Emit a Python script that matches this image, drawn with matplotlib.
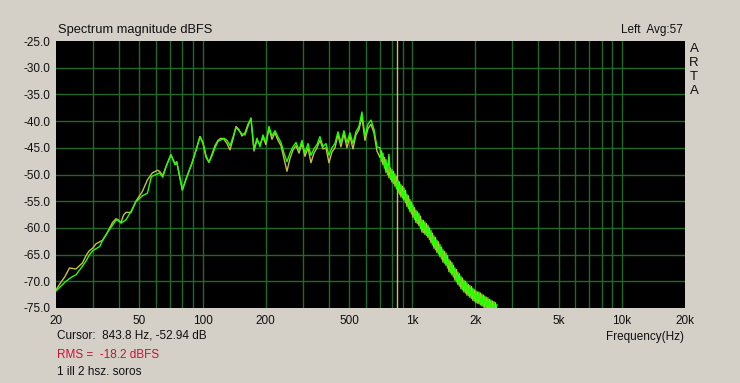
import numpy as np
import matplotlib
matplotlib.use('Agg')
from matplotlib import pyplot as plt
from matplotlib.ticker import FixedLocator, NullFormatter, NullLocator

plt.rcParams['font.family'] = ['Liberation Sans', 'DejaVu Sans']
plt.rcParams['font.size'] = 8.5

#---- data

freq = [20, 21, 22, 23.2, 24, 24.9, 26, 26.7, 28, 28.8,
        29.9, 31, 32.3, 33.4, 35, 37.2, 38.6, 39.3, 40.8, 42,
        43.1, 45.6, 48.1, 51.6, 54.6, 56.9, 57.6, 61, 62.3, 64.6,
        67, 70.6, 74, 75.3, 77, 80.1, 84, 89, 93,
        97.2, 100.5, 103.9, 107.3, 110.9, 114.6, 118.5, 122.4, 126.5, 130.8,
        135.2, 139.7, 144.4, 149.2, 154.2, 159.3, 164.7, 170.2, 175.9, 181.8,
        187.9, 194.1, 200.6, 207.4, 214.3, 221.5, 229.0, 236.6, 244.5, 252.7,
        261.2, 270.0, 279.0, 288.4, 298.0, 308.0, 318.3, 328.9, 339.9, 351.3,
        363.0, 375.2, 387.8, 400.7, 414.2, 428.1, 442.4, 457.2, 472.5, 488.3,
        504.7, 521.6, 539.1, 557.1, 575.8, 595.1, 615.0, 635.6, 656.9, 678.9,
        701.7, 713.4, 725.2, 737.3, 749.5, 762.0, 774.6, 787.5, 800.5, 813.8,
        827.4, 841.1, 855.1, 869.3, 883.7, 898.4, 913.3, 928.5, 943.9, 959.6,
        975.6, 991.8, 1008, 1025, 1042, 1059, 1077, 1095, 1113, 1131,
        1150, 1169, 1189, 1209, 1229, 1249, 1270, 1291, 1312, 1334,
        1356, 1379, 1402, 1425, 1449, 1473, 1497, 1522, 1547, 1573,
        1599, 1626, 1652, 1679, 1708, 1736, 1765, 1794, 1824, 1854,
        1885, 1916, 1948, 1980, 2013, 2046, 2081, 2116, 2150, 2186,
        2222, 2259, 2297, 2335, 2373, 2412, 2453, 2494, 2535]

green_db = [-71.8, -71.0, -70.2, -69.5, -69.1, -68.8, -67.8, -67.2, -66.0, -65.1,
            -64.3, -63.9, -63.5, -62.3, -61.0, -59.5, -58.6, -58.5, -59.1, -58.8,
            -58.5, -56.9, -55.1, -54.0, -53.5, -50.5, -50.3, -49.9, -49.7, -50.5,
            -48.5, -46.3, -48.2, -47.7, -49.5, -52.9, -50.5, -47.9, -45.5,
            -42.9, -44.0, -46.5, -47.7, -46.5, -45.0, -43.8, -43.5, -43.2, -43.6,
            -44.6, -43.0, -41.2, -41.8, -42.4, -42.6, -41.0, -39.4, -45.2, -43.2,
            -44.8, -42.6, -44.0, -41.0, -42.8, -41.8, -43.0, -44.0, -46.0, -47.6,
            -46.0, -44.8, -44.0, -45.4, -43.6, -46.0, -44.2, -46.4, -45.2, -44.4,
            -42.9, -44.8, -44.2, -46.4, -45.0, -44.2, -42.0, -44.0, -41.8, -44.0,
            -42.2, -44.2, -42.0, -41.0, -38.3, -42.8, -40.6, -39.8, -41.5, -44.8,
            -45.0, -47.6, -46.0, -48.8, -47.2, -50.0, -46.2, -50.9, -49.1, -51.7,
            -49.9, -52.7, -51.1, -53.7, -51.9, -54.4, -52.5, -55.3, -53.7, -56.4,
            -54.7, -57.4, -55.7, -58.4, -56.7, -59.2, -57.3, -60.1, -58.5, -60.9,
            -58.9, -61.4, -59.5, -62.2, -60.5, -63.2, -61.5, -64.1, -62.3, -64.9,
            -63.1, -65.8, -64.1, -66.6, -64.7, -67.5, -65.9, -68.4, -66.5, -69.2,
            -67.5, -70.1, -68.3, -70.9, -69.1, -71.6, -69.8, -72.2, -70.3, -72.7,
            -70.8, -73.2, -71.3, -73.7, -71.8, -74.1, -72.0, -74.4, -72.4, -74.8,
            -72.8, -75.1, -73.1, -75.5, -73.5, -75.8, -73.8, -76.2, -74.4]

yellow_db = [-71.6, -70.3, -69.2, -67.5, -67.6, -67.7, -67.0, -66.6, -65.0, -64.3,
             -63.8, -63.0, -62.6, -62.3, -61.0, -59.0, -58.3, -58.4, -59.0, -57.6,
             -57.1, -57.1, -55.0, -53.2, -51.0, -50.0, -49.7, -49.2, -49.4, -50.2,
             -48.5, -46.3, -48.0, -47.6, -49.5, -52.9, -50.5, -47.9, -45.5,
             -42.9, -44.2, -46.8, -47.7, -46.2, -44.6, -43.6, -43.2, -43.4, -44.2,
             -45.4, -43.4, -41.0, -41.6, -42.8, -42.2, -40.6, -39.6, -45.6, -43.6,
             -44.4, -43.0, -44.4, -41.4, -43.4, -42.2, -43.6, -44.6, -47.0, -49.4,
             -47.0, -45.4, -44.6, -46.0, -44.2, -46.6, -45.0, -47.8, -46.0, -45.0,
             -43.6, -45.2, -45.0, -47.8, -45.8, -45.0, -42.6, -44.8, -42.4, -45.0,
             -42.8, -45.2, -42.6, -41.6, -39.2, -43.6, -41.4, -40.6, -42.2, -45.6,
             -46.8, -45.6, -48.2, -46.8, -49.6, -48.0, -50.6, -48.8, -51.4, -49.4,
             -52.2, -50.4, -53.4, -51.4, -54.2, -52.2, -54.8, -53.0, -56.0, -54.0,
             -57.0, -55.2, -58.0, -56.2, -59.0, -57.0, -59.6, -57.8, -60.8, -58.6,
             -61.2, -59.2, -61.8, -60.0, -62.8, -61.0, -63.8, -61.8, -64.6, -62.6,
             -65.4, -63.6, -66.4, -64.4, -67.0, -65.2, -68.2, -66.2, -68.8, -67.0,
             -69.8, -67.8, -70.6, -68.6, -71.4, -69.4, -72.0, -70.0, -72.6, -70.6,
             -73.0, -71.0, -73.6, -71.6, -74.0, -72.0, -74.2, -72.2, -74.6, -72.6,
             -75.0, -73.0, -75.3, -73.4, -75.7, -73.7, -76.0, -74.0, -76.3]

cursor_hz = 843.8

x_ticks = [20, 50, 100, 200, 500, 1000, 2000, 5000, 10000, 20000]
x_labels = ['20', '50', '100', '200', '500', '1k', '2k', '5k', '10k', '20k']
y_ticks = [-25, -30, -35, -40, -45, -50, -55, -60, -65, -70, -75]

x_grid = [30, 40, 50, 60, 70, 80, 90, 100, 200, 300, 400, 500, 600, 700,
          800, 900, 1000, 2000, 3000, 4000, 5000, 6000, 7000, 8000, 9000, 10000]

W, H = 740, 383
bg = '#d4d0c8'
grid_c = '#1f6a2a'


def fx(px):
    return px / W


def fy(py):
    return 1 - py / H


#---- figure

fig = plt.figure(figsize=(W / 100, H / 100), dpi=100, facecolor=bg)
ax = fig.add_axes([fx(56), fy(308), fx(685) - fx(56), fy(41) - fy(308)])
ax.set_facecolor('black')

ax.set_xscale('log')
ax.set_xlim(20, 20000)
ax.set_ylim(-75, -25)

for g in x_grid:
    ax.axvline(g, color=grid_c, lw=1.0, zorder=1)
for g in y_ticks[1:-1]:
    ax.axhline(g, color=grid_c, lw=1.0, zorder=1)

ax.axvline(cursor_hz, color='#c8c850', lw=1.0, zorder=2)

ax.plot(freq, yellow_db, color='#c8c040', lw=1.0, zorder=3)
ax.plot(freq, green_db, color='#22ff00', lw=1.0, zorder=4)

ax.xaxis.set_major_locator(FixedLocator(x_ticks))
ax.xaxis.set_minor_locator(NullLocator())
ax.xaxis.set_minor_formatter(NullFormatter())
ax.set_xticklabels(x_labels)
ax.set_yticks(y_ticks)
ax.set_yticklabels(['%.1f' % v for v in y_ticks])
ax.tick_params(axis='both', length=0, colors='#101010', labelsize=8.5)
ax.tick_params(axis='x', pad=5)
ax.tick_params(axis='y', pad=4)
for s in ax.spines.values():
    s.set_visible(False)

#---- texts around the plot

fig.text(fx(58), fy(30), 'Spectrum magnitude dBFS', ha='left', va='center',
         color='#101010', fontsize=9.3)
fig.text(fx(683), fy(30), 'Left  Avg:57', ha='right', va='center', color='#101010')
for i, ch in enumerate('ARTA'):
    fig.text(fx(694), fy(49 + 14 * i), ch, ha='center', va='center', color='#101010', fontsize=9.5)

fig.text(fx(57), fy(336), 'Cursor:  843.8 Hz, -52.94 dB', ha='left', va='center', color='#101010')
fig.text(fx(57), fy(355), 'RMS =  -18.2 dBFS', ha='left', va='center', color='#cc1030')
fig.text(fx(57), fy(372), '1 ill 2 hsz. soros', ha='left', va='center', color='#101010')
fig.text(fx(684), fy(337), 'Frequency(Hz)', ha='right', va='center', color='#101010')

plt.savefig('out.png', dpi=100, facecolor=bg)
